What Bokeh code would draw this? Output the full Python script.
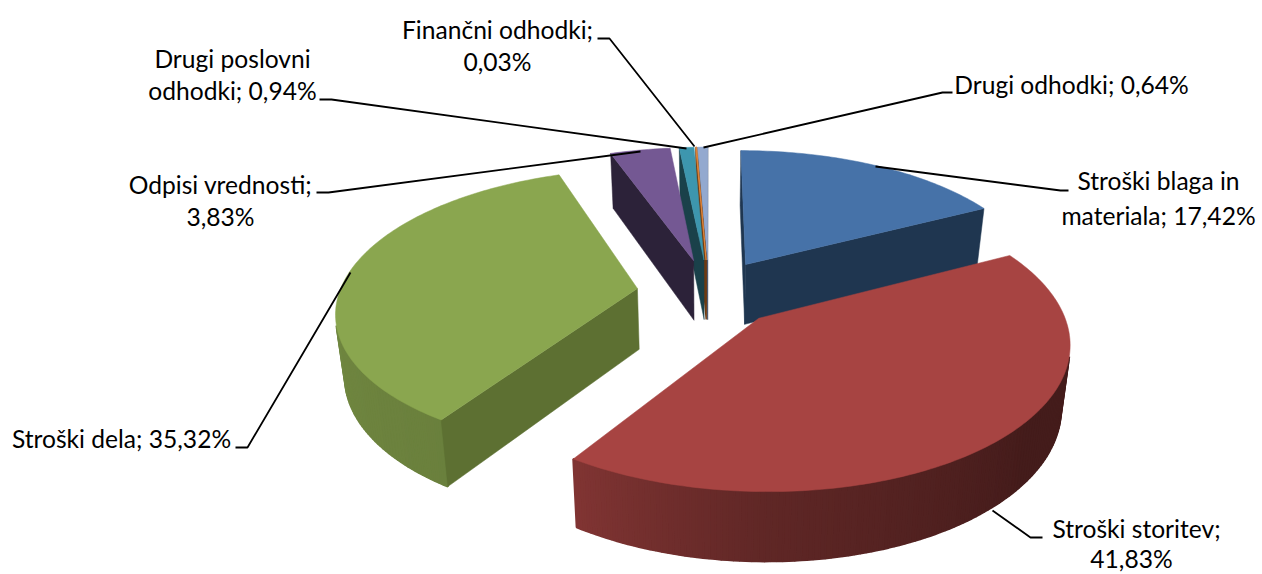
import numpy as np
from bokeh.plotting import figure
from bokeh.models import ColumnDataSource
from bokeh.core.properties import value
from bokeh.embed import file_html
from bokeh.resources import INLINE

# ---- data ----
names = ["Stroški blaga in materiala", "Stroški storitev", "Stroški dela", "Odpisi vrednosti",
         "Drugi poslovni odhodki", "Finančni odhodki", "Drugi odhodki"]
values = [17.42, 41.83, 35.32, 3.83, 0.94, 0.03, 0.64]
top_colors = ["#4672a8", "#a74442", "#8aa64f", "#745893", "#3d96ae", "#da8137", "#93a9cf"]
cut_colors = ["#1f3650", "#4a1c1a", "#5d7032", "#2c2239", "#1a414a", "#6e3a10", "#46536b"]

label_lines = ["Finančni odhodki;", "0,03%", "Drugi poslovni", "odhodki; 0,94%", "Drugi odhodki; 0,64%",
               "Stroški blaga in", "materiala; 17,42%", "Odpisi vrednosti;", "3,83%",
               "Stroški dela; 35,32%", "Stroški storitev;", "41,83%"]
label_x = [497, 497, 232, 232, 1071, 1158, 1158, 220, 220, 121, 1136, 1131]
label_y = [29, 61, 58, 90, 84, 180, 215, 184, 216, 438, 528, 558]

leaders = [
    ([597, 609, 694], [38, 38, 146]),
    ([319, 331, 686], [99, 99, 148]),
    ([703, 942, 952], [147, 92, 92]),
    ([875, 1060, 1068], [166, 190, 190]),
    ([316, 328, 640], [192, 192, 151]),
    ([235, 247, 350], [447, 447, 272]),
    ([992, 1030, 1042], [510, 537, 537]),
]

# ---- projection of the tilted pie ----
CX, CY = 708.5, 292
R, RK, PERSP = 298, 138.8, 0.15
EXPLODE = 0.243
DROP, DROP_Y, DROP_X = 61, 1.044, 0.975
W, H = 1262, 574


def top(x, y):
    f = 1 + PERSP * y
    return CX + R * x / f, CY - RK * y / f


def bottom(sx, sy):
    return CX + DROP_X * (sx - CX), CY + DROP + DROP_Y * (sy - CY)


def darken(hex_color, k):
    rgb = [int(hex_color[i:i + 2], 16) for i in (1, 3, 5)]
    return "#%02x%02x%02x" % tuple(int(round(c * k)) for c in rgb)


def rim_shade(theta):
    return float(np.interp(theta, [0, 90, 130, 180, 213, 270, 360],
                           [0.42, 0.40, 0.41, 0.57, 0.77, 0.82, 0.80]))


def area(xs, ys):
    return sum(xs[i] * ys[(i + 1) % len(xs)] - xs[(i + 1) % len(xs)] * ys[i] for i in range(len(xs)))


total = sum(values)
edges = np.concatenate([[0], np.cumsum(values)]) / total * 360

px, py, fill, lw = [], [], [], []


def add(xs, ys, colour, width):
    px.append(list(xs))
    py.append(list(ys))
    fill.append(colour)
    lw.append(width)


# back slices first, red last because it overlaps the foot of the blue one
for i in [6, 5, 4, 3, 0, 2, 1]:
    a0, a1 = edges[i], edges[i + 1]
    mid = np.radians((a0 + a1) / 2)
    ox, oy = EXPLODE * np.sin(mid), EXPLODE * np.cos(mid)
    th = np.linspace(a0, a1, max(3, int(a1 - a0) + 2))
    rad = np.radians(th)
    tx, ty = top(ox + np.sin(rad), oy + np.cos(rad))
    ax, ay = top(ox, oy)
    bx, by = bottom(tx, ty)
    bax, bay = bottom(ax, ay)
    thin = 1.4 if values[i] < 0.1 else 0.5

    # rim strips, then cut faces, only those facing the viewer
    for j in range(len(th) - 1):
        qx = [tx[j], tx[j + 1], bx[j + 1], bx[j]]
        qy = [ty[j], ty[j + 1], by[j + 1], by[j]]
        if area(qx, qy) < 0:
            add(qx, qy, darken(top_colors[i], rim_shade((th[j] + th[j + 1]) / 2)), 2.0)
    for q in ([ax, tx[0], bx[0], bax], [ay, ty[0], by[0], bay], cut_colors[i]), \
             ([tx[-1], ax, bax, bx[-1]], [ty[-1], ay, bay, by[-1]], cut_colors[i]):
        if area(q[0], q[1]) < 0:
            add(q[0], q[1], q[2], thin)
    add(np.concatenate([[ax], tx]), np.concatenate([[ay], ty]), top_colors[i], thin)

p = figure(width=W, height=H, x_range=(0, W), y_range=(H, 0), x_axis_type=None, y_axis_type=None,
           output_backend="svg", toolbar_location=None, min_border=0, outline_line_color=None,
           background_fill_color="white", border_fill_color="white")

p.patches("x", "y", source=ColumnDataSource(dict(x=px, y=py, c=fill, w=lw)),
          fill_color="c", line_color="c", line_width="w")

p.multi_line([l[0] for l in leaders], [l[1] for l in leaders], line_color="black", line_width=1.8)

p.text(label_x, label_y, text=label_lines, text_font=value("Lato"), text_font_size="24.6px",
       text_align="center", text_baseline="middle", text_color="#000000")

open("out.html", "w").write(file_html(p, INLINE))
